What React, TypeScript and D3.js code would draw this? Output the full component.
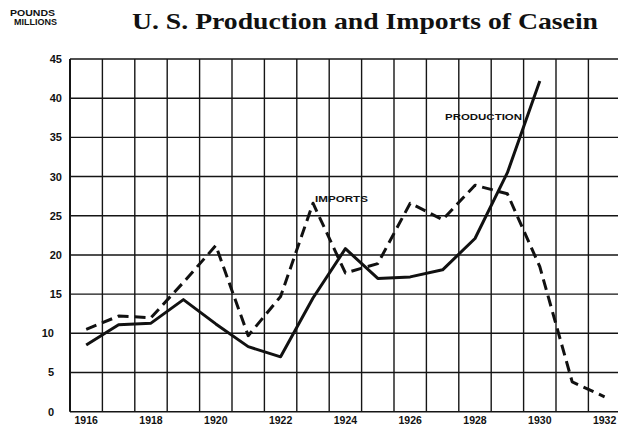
import * as d3 from "d3";

const years = [1916, 1917, 1918, 1919, 1920, 1921, 1922, 1923, 1924, 1925, 1926, 1927, 1928, 1929, 1930, 1931, 1932];
const productionYears = [1916, 1917, 1918, 1919, 1920, 1921, 1922, 1923, 1924, 1925, 1926, 1927, 1928, 1929, 1930];
const production = [8.5, 11.1, 11.3, 14.3, 11.2, 8.3, 7.0, 14.5, 20.8, 17.0, 17.2, 18.1, 22.1, 30.5, 42.2];
const imports = [10.5, 12.2, 12.0, 16.5, 21.2, 9.7, 14.7, 26.6, 17.7, 18.9, 26.6, 24.5, 28.9, 27.8, 18.5, 3.8, 1.9];
const yearLabels = [1916, 1918, 1920, 1922, 1924, 1926, 1928, 1930, 1932];
const valueTicks = [0, 5, 10, 15, 20, 25, 30, 35, 40, 45];

const W = 618;
const H = 425;

const App = () => {
  const x = d3.scaleBand<number>().domain(years).range([70, 620.8]).padding(0);
  const y = d3.scaleLinear().domain([0, 45]).range([411.7, 59]);
  const cx = (yr: number) => (x(yr) ?? 0) + x.bandwidth() / 2;

  const line = d3
    .line<[number, number]>()
    .x((d) => cx(d[0]))
    .y((d) => y(d[1]))
    .curve(d3.curveLinear);

  const prodPath = line(productionYears.map((yr, i) => [yr, production[i]]));
  const impPath = line(years.map((yr, i) => [yr, imports[i]]));

  const edges = [...years.map((yr) => x(yr) ?? 0), x.range()[1]];
  const sans = "'Liberation Sans', Arial, sans-serif";

  return (
    <svg
      width={W}
      height={H}
      style={{ position: "absolute", left: 0, top: 0, background: "#fff" }}
    >
      <rect width={W} height={H} fill="#fff" />
      <text
        x={365}
        y={29}
        textAnchor="middle"
        fontFamily="'Liberation Serif', 'Times New Roman', serif"
        fontWeight="bold"
        fontSize={23}
        textLength={466}
        lengthAdjust="spacingAndGlyphs"
        fill="#111"
      >
        U. S. Production and Imports of Casein
      </text>
      <text x={10} y={16} fontFamily={sans} fontWeight="bold" fontSize={9} fill="#111" textLength={45} lengthAdjust="spacingAndGlyphs">
        POUNDS
      </text>
      <text x={14} y={25} fontFamily={sans} fontWeight="bold" fontSize={8.5} fill="#111" textLength={43} lengthAdjust="spacingAndGlyphs">
        MILLIONS
      </text>

      {/* grid */}
      <g stroke="#151515" strokeWidth={1.4}>
        {valueTicks.map((v) => (
          <line key={"h" + v} x1={70} x2={620.8} y1={y(v)} y2={y(v)} />
        ))}
        {edges.map((e, i) => (
          <line key={"v" + i} x1={e} x2={e} y1={y(45)} y2={y(0)} strokeWidth={i === 0 ? 2 : 1.4} />
        ))}
      </g>

      {/* y tick labels */}
      <g fontFamily={sans} fontWeight="bold" fontSize={11} fill="#111">
        {valueTicks.map((v) => (
          <text key={"t" + v} x={v < 15 ? 54 : 62} y={y(v)} dy="0.36em" textAnchor="end">
            {v}
          </text>
        ))}
      </g>

      {/* x tick labels */}
      <g fontFamily={sans} fontWeight="bold" fontSize={10.5} fill="#111">
        {yearLabels.map((yr) => (
          <text key={"x" + yr} x={cx(yr)} y={424} textAnchor="middle">
            {yr}
          </text>
        ))}
      </g>

      {/* series */}
      <path d={impPath ?? ""} fill="none" stroke="#111" strokeWidth={3} strokeDasharray="11 6" strokeLinejoin="round" />
      <path d={prodPath ?? ""} fill="none" stroke="#111" strokeWidth={3} strokeLinejoin="round" />

      <text x={315} y={202} fontFamily={sans} fontWeight="bold" fontSize={9} fill="#111" textLength={53} lengthAdjust="spacingAndGlyphs">
        IMPORTS
      </text>
      <text x={445} y={120} fontFamily={sans} fontWeight="bold" fontSize={9} fill="#111" textLength={77} lengthAdjust="spacingAndGlyphs">
        PRODUCTION
      </text>
    </svg>
  );
};

export default App;
